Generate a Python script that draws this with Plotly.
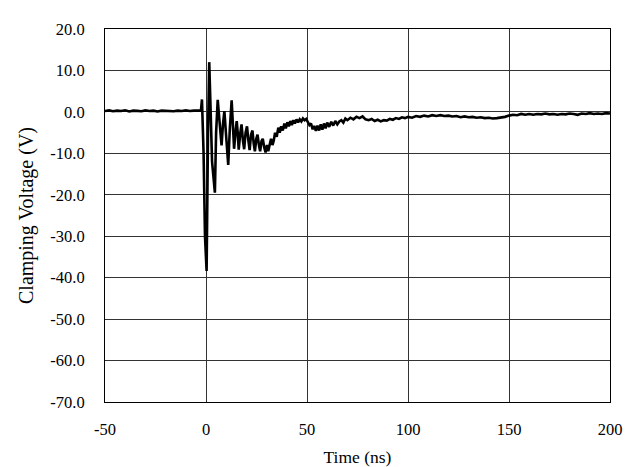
import plotly.graph_objects as go

# Baseline before the event
t_base = [-50, -48, -46, -44, -42, -40, -38, -36, -34, -32, -30, -28, -26, -24, -22,
          -20, -18, -16, -14, -12, -10, -8, -6, -4, -3]
v_base = [0.2, 0.35, 0.15, 0.3, 0.2, 0.4, 0.1, 0.3, 0.25, 0.15, 0.35, 0.2, 0.3, 0.1, 0.3,
          0.25, 0.35, 0.15, 0.3, 0.2, 0.35, 0.2, 0.3, 0.25, 0.3]

# Transient and recovery
t_evt = [-2.5, -2.0, -1.2, -0.5, 0.3, 1.0, 1.6, 2.3, 3.0, 4.4, 5.0, 5.8, 6.8, 7.7, 8.4,
         9.1, 10.0, 11.0, 11.8, 12.7, 13.3, 13.9, 14.6, 15.2, 15.7, 16.2, 17.0, 17.6,
         18.3, 18.9, 19.6, 20.3, 21.0, 21.6, 22.3, 23.0, 23.6, 24.2, 24.9, 25.5, 26.2,
         26.8, 27.5, 28.1, 28.8, 29.5, 30.2, 30.8, 31.5, 32.2, 32.9, 33.5, 34.2, 35.0,
         35.8, 36.5, 37.2, 38.0, 38.8, 39.5, 40.3, 41.0, 41.8, 42.5, 43.3, 44.0, 44.8,
         45.6, 46.4, 47.2, 48.0, 48.8, 49.6, 50.4, 51.2, 52.0, 52.8, 53.6, 54.4, 55.2,
         56.0, 56.8, 57.6, 58.4, 59.2, 60.0, 61.0, 62.0, 63.0, 64.0, 65.0, 66.0, 67.0,
         68.0, 69.0, 70.0, 71.5, 73.0, 74.5, 76.0, 77.5, 79.0, 80.5, 82.0, 83.5, 85.0,
         86.5, 88.0, 89.5, 91.0, 92.5, 94.0, 95.5, 97.0, 98.5]
v_evt = [0.3, 3.0, -10.0, -30.0, -38.4, -5.0, 12.0, 0.0, -12.0, -19.5, -5.0, 2.9, -4.0,
         -8.1, -3.0, 0.2, -6.0, -12.8, -4.0, 2.8, -3.0, -8.9, -5.0, -2.2, -5.0, -9.1,
         -5.0, -3.0, -7.0, -9.0, -5.0, -3.5, -7.0, -9.2, -5.5, -4.5, -7.5, -9.5, -6.5,
         -5.5, -8.0, -9.5, -7.0, -6.5, -8.5, -9.8, -8.0, -9.5, -8.0, -6.5, -8.0, -7.0,
         -5.0, -6.0, -3.8, -5.0, -3.5, -4.5, -2.8, -4.0, -2.5, -3.5, -2.2, -3.2, -2.0,
         -2.8, -1.8, -2.5, -1.8, -2.3, -1.6, -2.0, -1.7, -2.5, -3.2, -2.8, -4.2, -3.4,
         -4.6, -3.3, -4.5, -3.0, -4.3, -2.8, -4.0, -2.6, -3.6, -2.4, -3.3, -2.2, -3.0,
         -2.3, -2.0, -2.6, -1.6, -2.0, -1.4, -1.8, -1.2, -1.5, -1.1, -1.8, -2.0, -1.7,
         -2.2, -1.9, -2.3, -2.0, -2.1, -1.7, -1.9, -1.5, -1.7, -1.3, -1.5]

# Late tail
t_tail = [100, 102, 104, 106, 108, 110, 112, 114, 116, 118, 120, 122, 124, 126, 128,
          130, 132, 134, 136, 138, 140, 142, 144, 146, 148, 150, 152, 154, 156, 158,
          160, 162, 164, 166, 168, 170, 172, 174, 176, 178, 180, 182, 184, 186, 188,
          190, 192, 194, 196, 198, 200]
v_tail = [-1.2, -1.4, -1.0, -1.2, -0.9, -1.1, -0.8, -1.0, -0.8, -1.0, -0.9, -1.1, -1.0,
          -1.3, -1.1, -1.3, -1.2, -1.4, -1.3, -1.5, -1.4, -1.6, -1.5, -1.4, -1.2, -0.9,
          -0.7, -0.8, -0.5, -0.7, -0.5, -0.7, -0.5, -0.6, -0.4, -0.6, -0.5, -0.7, -0.5,
          -0.6, -0.4, -0.5, -0.7, -0.4, -0.5, -0.3, -0.5, -0.4, -0.5, -0.3, -0.4]

x_ticks = [-50, 0, 50, 100, 150, 200]
x_tick_text = ["-50", "0", "50", "100", "150", "200"]
y_ticks = [20, 10, 0, -10, -20, -30, -40, -50, -60, -70]
y_tick_text = ["20.0", "10.0", "0.0", "-10.0", "-20.0", "-30.0", "-40.0", "-50.0",
               "-60.0", "-70.0"]

t_all = t_base + t_evt + t_tail
v_all = v_base + v_evt + v_tail

fig = go.Figure()
fig.add_trace(go.Scatter(x=t_all, y=v_all, mode="lines",
                         line=dict(color="black", width=2.6), showlegend=False))

font = dict(family="Liberation Serif, Times New Roman, serif", color="black", size=16.5)

fig.update_layout(
    width=632, height=467,
    margin=dict(l=97, r=30, t=15, b=70),
    paper_bgcolor="white", plot_bgcolor="white",
    font=font,
    xaxis=dict(range=[-50, 200], tickvals=x_ticks, ticktext=x_tick_text,
               showgrid=True, gridcolor="#333", gridwidth=1,
               showline=True, linecolor="black", linewidth=1, mirror=True,
               zeroline=False, ticks="", ticklabelstandoff=12,
               title=dict(text="Time (ns)", font=dict(size=17.5), standoff=12)),
    yaxis=dict(range=[-70, 20], tickvals=y_ticks, ticktext=y_tick_text,
               showgrid=True, gridcolor="#333", gridwidth=1,
               showline=True, linecolor="black", linewidth=1, mirror=True,
               zeroline=False, ticks="", ticklabelstandoff=16,
               title=dict(text="Clamping Voltage (V)", font=dict(size=20), standoff=11)),
)

fig.write_html("out.html")
